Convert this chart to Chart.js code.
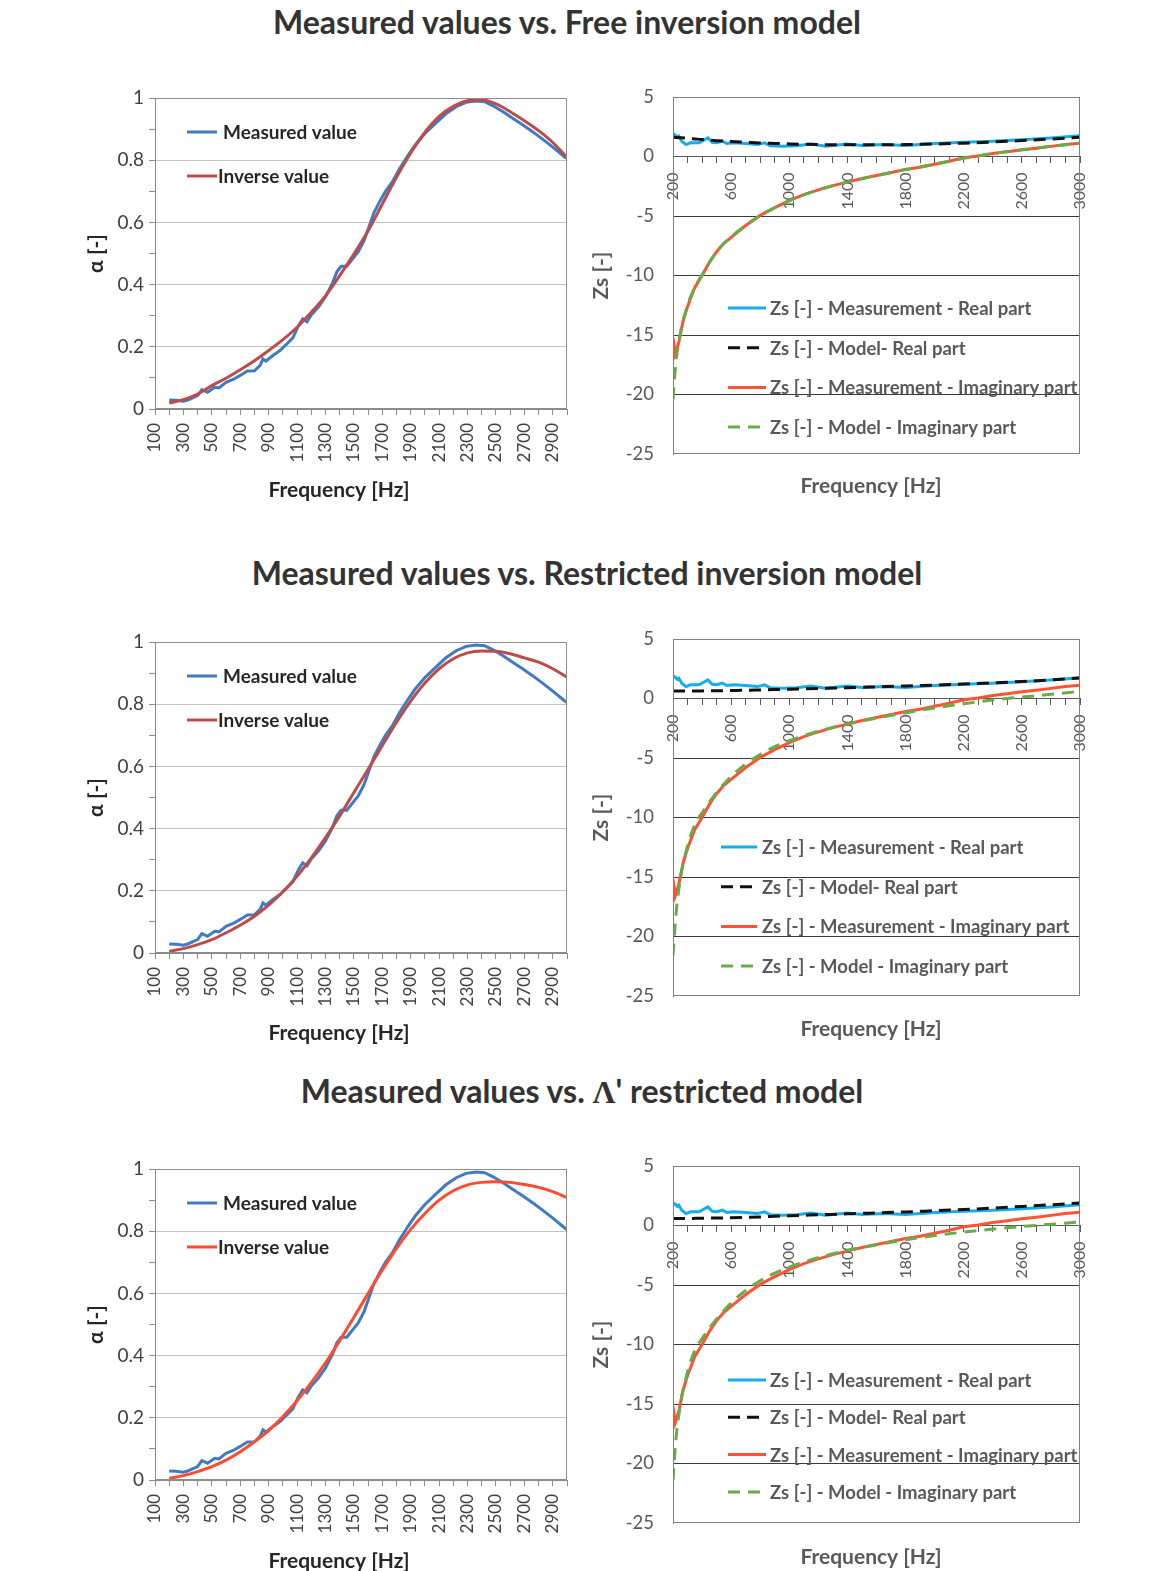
<!DOCTYPE html>
<html>
<head>
<meta charset="utf-8">
<script src="https://cdn.jsdelivr.net/npm/chart.js@4.4.1/dist/chart.umd.min.js"></script>
<style>
body { margin: 0; background: #fff; width: 1164px; height: 1571px; position: relative; overflow: hidden; font-family: Lato, "Open Sans", sans-serif; }
.ttl { position: absolute; width: 1000px; text-align: center; font-weight: bold; font-size: 32px; line-height: 36px; color: #333; white-space: nowrap; }
.box { position: absolute; width: 505px; height: 426px; }
.box.r { width: 510px; }
</style>
</head>
<body>
<div class="ttl" style="left:67px;top:4px">Measured values vs. Free inversion model</div>
<div class="ttl" style="left:87px;top:555px">Measured values vs. Restricted inversion model</div>
<div class="ttl" style="left:82px;top:1073px">Measured values vs. <span style="font-family:'Liberation Serif',serif">Λ</span>' restricted model</div>

<div class="box" style="left:70px;top:82px"><canvas id="alpha1"></canvas></div>
<div class="box r" style="left:580px;top:82px"><canvas id="zs1"></canvas></div>
<div class="box" style="left:70px;top:626px"><canvas id="alpha2"></canvas></div>
<div class="box r" style="left:580px;top:624px"><canvas id="zs2"></canvas></div>
<div class="box" style="left:70px;top:1153px"><canvas id="alpha3"></canvas></div>
<div class="box r" style="left:580px;top:1151px"><canvas id="zs3"></canvas></div>

<script>
// tick labels
var alphaFreqLabels = [100, 300, 500, 700, 900, 1100, 1300, 1500, 1700, 1900, 2100, 2300, 2500, 2700, 2900];
var alphaAxisLabels = [0, 0.2, 0.4, 0.6, 0.8, 1];
var zsFreqLabels = [200, 600, 1000, 1400, 1800, 2200, 2600, 3000];
var zsAxisLabels = [5, 0, -5, -10, -15, -20, -25];

// measured absorption coefficient (same in all three rows)
var measFreq = [200, 250, 300, 330, 400, 430, 470, 520, 550, 600, 650, 700, 750, 800, 840, 860, 880, 930, 980, 1030,
  1070, 1110, 1140, 1170, 1200, 1250, 1300, 1350, 1380, 1410, 1450, 1490, 1530, 1570, 1600, 1640, 1680, 1720, 1770, 1820,
  1880, 1930, 2000, 2080, 2150, 2220, 2290, 2360, 2420, 2480, 2550, 2620, 2690, 2760, 2830, 2900, 2980, 3000];
var measAlpha = [0.029, 0.028, 0.025, 0.029, 0.043, 0.062, 0.054, 0.07, 0.068, 0.086, 0.095, 0.108, 0.122, 0.123, 0.14, 0.161, 0.154, 0.172, 0.188, 0.21,
  0.229, 0.268, 0.29, 0.28, 0.302, 0.328, 0.36, 0.405, 0.441, 0.459, 0.459, 0.482, 0.505, 0.54, 0.578, 0.63, 0.666, 0.698, 0.73, 0.772,
  0.815, 0.848, 0.886, 0.921, 0.95, 0.972, 0.986, 0.99, 0.988, 0.975, 0.956, 0.934, 0.913, 0.891, 0.867, 0.842, 0.812, 0.805];

// inverse (model) absorption coefficient
var invFreq = [200, 300, 400, 500, 600, 700, 800, 900, 1000, 1100, 1200, 1300, 1400, 1500, 1600, 1700, 1800, 1900, 2000, 2100,
  2200, 2300, 2400, 2500, 2600, 2700, 2800, 2900, 3000];
var invAlphaFree = [0.019, 0.03, 0.048, 0.075, 0.099, 0.126, 0.155, 0.188, 0.223, 0.263, 0.311, 0.364, 0.429, 0.498, 0.573, 0.659, 0.745, 0.823, 0.89, 0.941,
  0.973, 0.991, 0.994, 0.981, 0.956, 0.927, 0.895, 0.857, 0.809];
var invAlphaRestricted = [0.005, 0.014, 0.027, 0.043, 0.065, 0.089, 0.118, 0.154, 0.197, 0.247, 0.306, 0.371, 0.441, 0.516, 0.591, 0.667, 0.742, 0.81, 0.868, 0.914,
  0.946, 0.965, 0.971, 0.97, 0.962, 0.949, 0.935, 0.914, 0.887];
var invAlphaLambda = [0.005, 0.014, 0.027, 0.043, 0.064, 0.091, 0.123, 0.159, 0.204, 0.255, 0.313, 0.377, 0.448, 0.523, 0.6, 0.675, 0.745, 0.806, 0.857, 0.9,
  0.93, 0.949, 0.957, 0.959, 0.957, 0.95, 0.941, 0.927, 0.908];

// measured surface impedance (same in all three rows)
var zsRealFreq = [200, 215, 230, 240, 260, 290, 320, 380, 420, 440, 470, 500, 540, 570, 620, 700, 780, 830, 870, 950,
  1050, 1150, 1250, 1400, 1500, 1650, 1800, 2000, 2200, 2400, 2600, 2800, 3000];
var zsMeasReal = [1.9, 1.79, 1.6, 1.7, 1.29, 1.0, 1.15, 1.15, 1.43, 1.56, 1.2, 1.15, 1.29, 1.09, 1.15, 1.09, 1.0, 1.15, 0.9, 0.87,
  0.9, 1.05, 0.87, 1.06, 0.92, 1.0, 0.92, 1.09, 1.2, 1.29, 1.4, 1.55, 1.75];
var zsImagFreq = [200, 215, 240, 270, 300, 350, 400, 450, 500, 550, 600, 700, 800, 900, 1000, 1100, 1200, 1300, 1400, 1500,
  1600, 1700, 1800, 1900, 2000, 2100, 2200, 2300, 2400, 2500, 2600, 2700, 2800, 2900, 3000];
var zsMeasImag = [-15.2, -16.6, -15.6, -13.8, -12.6, -11.0, -10.0, -8.9, -8.0, -7.3, -6.8, -5.8, -4.95, -4.3, -3.7, -3.2, -2.8, -2.45, -2.15, -1.85,
  -1.6, -1.35, -1.1, -0.9, -0.65, -0.4, -0.1, 0.05, 0.25, 0.4, 0.56, 0.7, 0.85, 1.0, 1.12];

// model surface impedance
var zsModelFreq = [200, 220, 250, 300, 350, 400, 500, 600, 700, 800, 900, 1000, 1200, 1400, 1600, 1800, 2000, 2200, 2400, 2600, 2800, 3000];
var zsModelRealFree = [1.62, 1.6, 1.58, 1.54, 1.48, 1.42, 1.33, 1.26, 1.2, 1.14, 1.1, 1.06, 1.0, 0.98, 0.98, 1.0, 1.05, 1.12, 1.22, 1.34, 1.47, 1.62];
var zsModelImagFree = [-20.4, -17.3, -14.9, -12.5, -11.0, -9.95, -8.0, -6.75, -5.8, -4.95, -4.3, -3.7, -2.8, -2.15, -1.6, -1.1, -0.65, -0.15, 0.25, 0.56, 0.85, 1.12];
var zsModelRealRestricted = [0.62, 0.62, 0.62, 0.63, 0.63, 0.64, 0.65, 0.67, 0.69, 0.72, 0.75, 0.78, 0.84, 0.91, 0.98, 1.05, 1.13, 1.22, 1.32, 1.43, 1.56, 1.72];
var zsModelImagRestricted = [-21.6, -18.2, -15.2, -12.4, -10.6, -9.6, -7.9, -6.55, -5.5, -4.7, -4.05, -3.55, -2.75, -2.15, -1.65, -1.2, -0.8, -0.45, -0.12, 0.12, 0.35, 0.6];
var zsModelRealLambda = [0.58, 0.58, 0.58, 0.59, 0.6, 0.61, 0.63, 0.65, 0.68, 0.72, 0.77, 0.82, 0.9, 0.98, 1.06, 1.14, 1.24, 1.34, 1.46, 1.6, 1.74, 1.9];
var zsModelImagLambda = [-21.4, -18.0, -15.1, -12.3, -10.5, -9.5, -7.85, -6.5, -5.45, -4.65, -4.0, -3.5, -2.7, -2.1, -1.62, -1.2, -0.85, -0.55, -0.3, -0.08, 0.1, 0.3];

var FONT = 'Lato, "Open Sans", sans-serif';
Chart.defaults.font.family = FONT;
Chart.defaults.animation = false;

function pts(xs, ys) {
  return xs.map(function (x, i) { return { x: x, y: ys[i] }; });
}

// no extra room round the plot for the end labels
function noPad(s) {
  s.paddingLeft = 0; s.paddingRight = 0; s.paddingTop = 0; s.paddingBottom = 0;
}

// grey frame round the plot area
var framePlugin = {
  id: 'frame',
  afterDraw: function (chart, args, opts) {
    var a = chart.chartArea, ctx = chart.ctx;
    ctx.save();
    ctx.strokeStyle = opts.color || '#888';
    ctx.lineWidth = 1;
    ctx.strokeRect(Math.round(a.left) + 0.5, Math.round(a.top) + 0.5, Math.round(a.right - a.left) - 1, Math.round(a.bottom - a.top) - 1);
    ctx.restore();
  }
};

// frequency axis title, placed where the spreadsheet put it
var xTitlePlugin = {
  id: 'xtitle',
  afterDraw: function (chart, args, opts) {
    var a = chart.chartArea, ctx = chart.ctx;
    ctx.save();
    ctx.font = 'bold ' + opts.size + 'px ' + FONT;
    ctx.fillStyle = opts.color;
    ctx.textAlign = 'center';
    ctx.textBaseline = 'middle';
    ctx.fillText(opts.text, a.left + opts.dx, a.bottom + opts.dy);
    ctx.restore();
  }
};

// legend drawn inside the plot area, like the spreadsheet one
var inLegendPlugin = {
  id: 'inlegend',
  afterDraw: function (chart, args, opts) {
    var a = chart.chartArea, ctx = chart.ctx;
    ctx.save();
    ctx.font = 'bold ' + opts.size + 'px ' + FONT;
    ctx.textBaseline = 'middle';
    ctx.textAlign = 'left';
    chart.data.datasets.forEach(function (ds, i) {
      var y = a.top + opts.y + i * opts.dy;
      var x = a.left + opts.x;
      ctx.strokeStyle = ds.borderColor;
      ctx.lineWidth = ds.borderWidth;
      ctx.setLineDash(ds.borderDash || []);
      ctx.beginPath();
      ctx.moveTo(x, y);
      ctx.lineTo(x + opts.len, y);
      ctx.stroke();
      ctx.setLineDash([]);
      ctx.fillStyle = opts.color;
      ctx.fillText(ds.label, x + opts.len + (opts.gaps ? opts.gaps[i] : opts.gap), y + 1);
    });
    ctx.restore();
  }
};

function alphaChart(id, invValues, invColor, titleDy) {
  return new Chart(document.getElementById(id), {
    type: 'line',
    data: {
      datasets: [
        { label: 'Measured value', data: pts(measFreq, measAlpha), borderColor: '#3F7AC4', borderWidth: 3, pointRadius: 0, order: 1 },
        { label: 'Inverse value', data: pts(invFreq, invValues), borderColor: invColor, borderWidth: 3, pointRadius: 0, cubicInterpolationMode: 'monotone', order: 0 }
      ]
    },
    options: {
      responsive: true,
      maintainAspectRatio: false,
      layout: { padding: { top: 16, right: 8, left: 0, bottom: 0 } },
      plugins: {
        legend: { display: false },
        tooltip: { enabled: false },
        frame: { color: '#8c8c8c' },
        xtitle: { text: 'Frequency [Hz]', dx: 184, dy: titleDy, size: 21, color: '#262626' },
        inlegend: { x: 32, y: 34, dy: 44, len: 30, gaps: [6, 1], size: 19, color: '#262626' }
      },
      scales: {
        x: {
          type: 'linear', min: 100, max: 3000,
          afterFit: function (s) { s.height = 99; noPad(s); },
          ticks: {
            stepSize: 100, autoSkip: false, maxRotation: 90, minRotation: 90, padding: 8,
            font: { size: 17 }, color: '#404040',
            callback: function (v) { return alphaFreqLabels.indexOf(v) >= 0 ? String(v) : ''; }
          },
          grid: { drawOnChartArea: false, tickLength: 6, color: '#8c8c8c' },
          border: { color: '#8c8c8c' }
        },
        y: {
          min: 0, max: 1,
          afterFit: function (s) { s.width = 85; noPad(s); },
          ticks: {
            stepSize: 0.1, padding: 5, font: { size: 19 }, color: '#404040',
            callback: function (v) {
              var r = Math.round(v * 10) / 10;
              return alphaAxisLabels.indexOf(r) >= 0 ? String(r) : '';
            }
          },
          grid: {
            color: function (c) { return Math.round(c.tick.value * 10) % 2 === 0 ? '#c4c4c4' : 'rgba(0,0,0,0)'; },
            tickColor: '#8c8c8c', tickLength: 6
          },
          border: { color: '#8c8c8c' },
          title: { display: true, text: 'α [-]', font: { size: 21, weight: 'bold' }, color: '#262626', padding: { top: 14 } }
        }
      }
    },
    plugins: [framePlugin, xTitlePlugin, inLegendPlugin]
  });
}

function zsChart(id, modelReal, modelImag, legendOpts, titleDy) {
  return new Chart(document.getElementById(id), {
    type: 'line',
    data: {
      datasets: [
        { label: 'Zs [-] - Measurement - Real part', data: pts(zsRealFreq, zsMeasReal), borderColor: '#14ADEB', borderWidth: 3, pointRadius: 0, order: 3 },
        { label: 'Zs [-] - Model- Real part', data: pts(zsModelFreq, modelReal), borderColor: '#111', borderWidth: 3, borderDash: [12, 7], pointRadius: 0, cubicInterpolationMode: 'monotone', order: 1 },
        { label: 'Zs [-] - Measurement - Imaginary part', data: pts(zsImagFreq, zsMeasImag), borderColor: '#FF5232', borderWidth: 3, pointRadius: 0, order: 2 },
        { label: 'Zs [-] - Model - Imaginary part', data: pts(zsModelFreq, modelImag), borderColor: '#68AC48', borderWidth: 3, borderDash: [12, 8], pointRadius: 0, cubicInterpolationMode: 'monotone', order: 0 }
      ]
    },
    options: {
      responsive: true,
      maintainAspectRatio: false,
      layout: { padding: { top: 15, right: 10, left: 0, bottom: 54 } },
      plugins: {
        legend: { display: false },
        tooltip: { enabled: false },
        frame: { color: '#808080' },
        xtitle: { text: 'Frequency [Hz]', dx: 198, dy: titleDy, size: 21, color: '#595959' },
        inlegend: legendOpts
      },
      scales: {
        x: {
          type: 'linear', min: 200, max: 3000, position: { y: 0 },
          afterFit: noPad,
          ticks: {
            stepSize: 100, autoSkip: false, maxRotation: 90, minRotation: 90, padding: 10,
            font: { size: 16 }, color: '#595959',
            callback: function (v) { return zsFreqLabels.indexOf(v) >= 0 ? String(v) : ''; }
          },
          grid: { drawOnChartArea: false, tickLength: 6, color: '#595959' },
          border: { color: '#595959' }
        },
        y: {
          min: -25, max: 5,
          afterFit: function (s) { s.width = 93; noPad(s); },
          ticks: {
            stepSize: 5, padding: 19, font: { size: 18.5 }, color: '#595959',
            callback: function (v) { return zsAxisLabels.indexOf(v) >= 0 ? String(v) : ''; }
          },
          grid: {
            drawTicks: false,
            color: function (c) { var v = c.tick.value; return (v < 0 && v > -25) ? '#3a3a3a' : 'rgba(0,0,0,0)'; }
          },
          border: { color: '#808080' },
          title: { display: true, text: 'Zs [-]', font: { size: 21, weight: 'bold' }, color: '#595959', padding: { top: 9 } }
        }
      }
    },
    plugins: [framePlugin, xTitlePlugin, inLegendPlugin]
  });
}

alphaChart('alpha1', invAlphaFree, '#BE4B48', 81);
alphaChart('alpha2', invAlphaRestricted, '#BE4B48', 80);
alphaChart('alpha3', invAlphaLambda, '#FF4B2B', 81);

zsChart('zs1', zsModelRealFree, zsModelImagFree, { x: 55, y: 211, dy: 39.7, len: 38, gap: 4, size: 18.5, color: '#595959' }, 32);
zsChart('zs2', zsModelRealRestricted, zsModelImagRestricted, { x: 48, y: 208, dy: 39.7, len: 36, gap: 5, size: 18.5, color: '#595959' }, 33);
zsChart('zs3', zsModelRealLambda, zsModelImagLambda, { x: 55, y: 214, dy: 37.3, len: 38, gap: 4, size: 18.5, color: '#595959' }, 34);
</script>
</body>
</html>
